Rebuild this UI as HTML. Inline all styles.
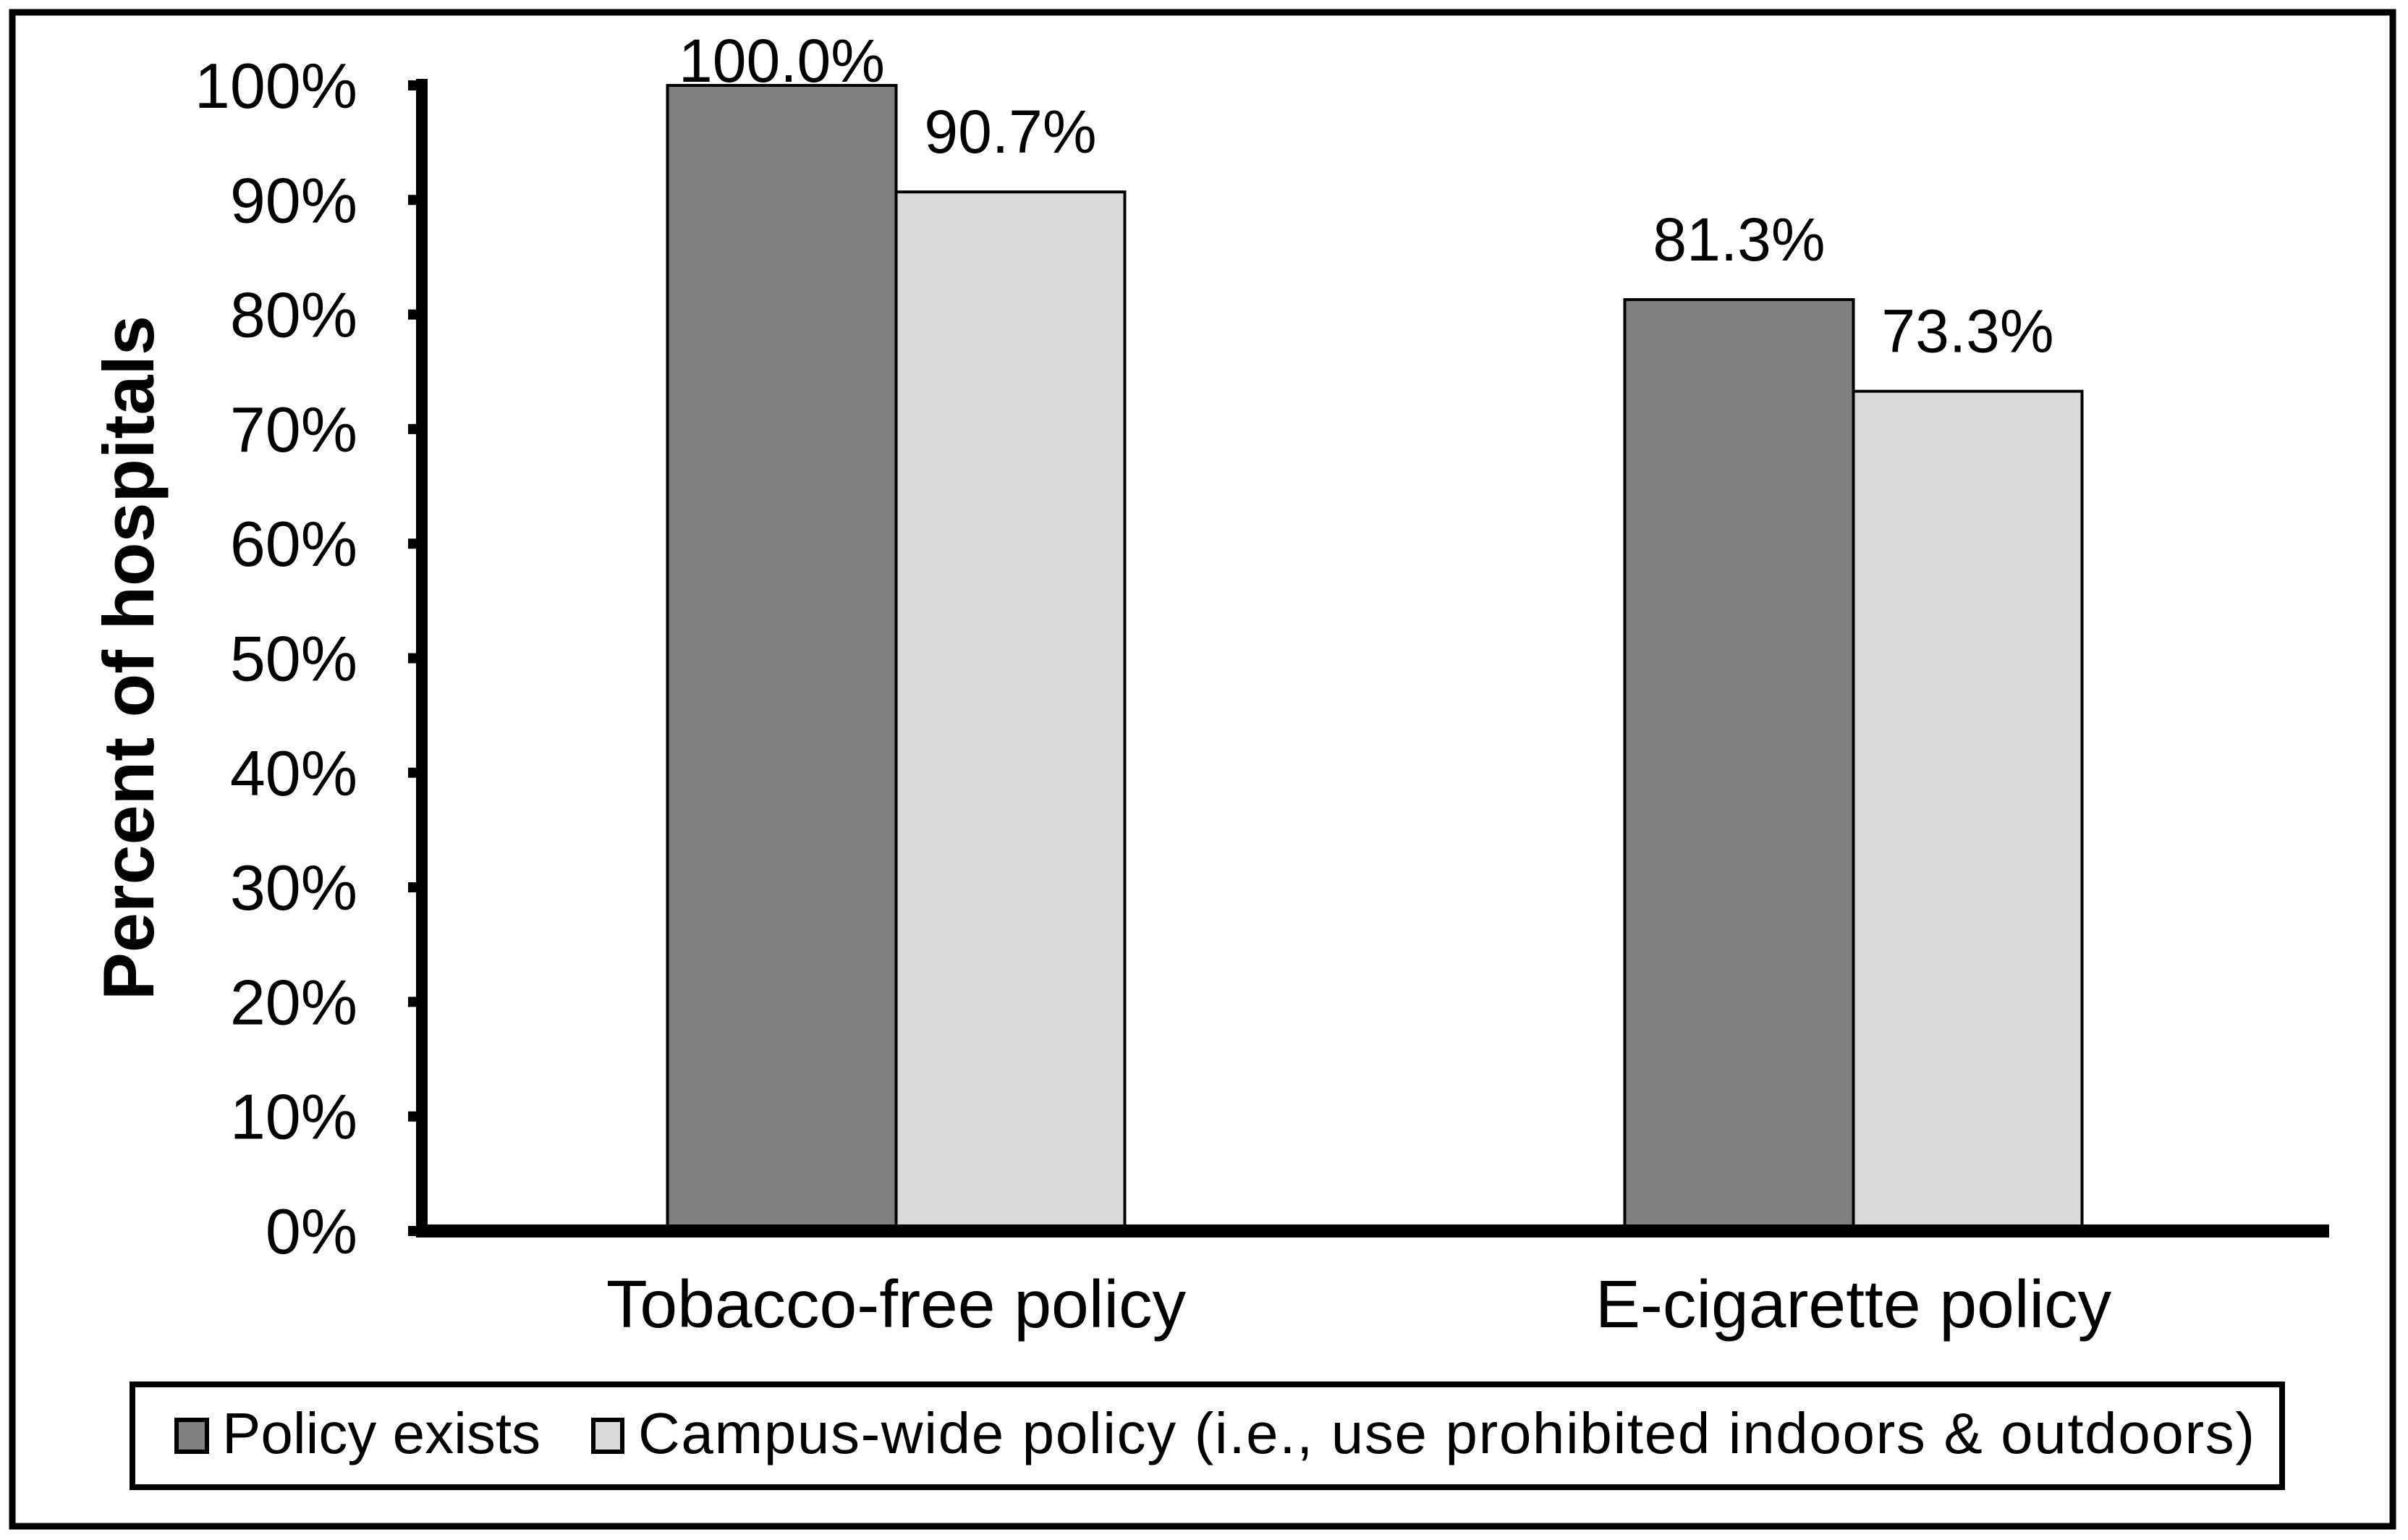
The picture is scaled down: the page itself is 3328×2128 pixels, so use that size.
<!DOCTYPE html>
<html><head><meta charset="utf-8">
<style>html,body{margin:0;padding:0;background:#fff}svg{display:block}text{font-family:"Liberation Sans",Arial,sans-serif}</style>
</head><body>
<svg width="3328" height="2128" viewBox="0 0 3328 2128" xmlns="http://www.w3.org/2000/svg">
<rect x="17" y="17" width="3290" height="2092" fill="#fff" stroke="#000" stroke-width="9"/>
<g id="yticks"></g>
<g id="bars"></g>
<g id="labels"></g>
<line x1="583" y1="109" x2="583" y2="1710" stroke="#000" stroke-width="16"/>
<line x1="575" y1="1701" x2="3219" y2="1701" stroke="#000" stroke-width="18"/>
<text x="0" y="0" transform="translate(212,909) rotate(-90)" text-anchor="middle" font-size="99" font-weight="bold">Percent of hospitals</text>
<g id="cats"></g>
<g>
<rect x="183" y="1913" width="2971" height="142" fill="#fff" stroke="#000" stroke-width="8"/>
<rect x="244" y="1962" width="42" height="44" fill="#808080" stroke="#000" stroke-width="6"/>
<text x="307" y="2008" font-size="80">Policy exists</text>
<rect x="820" y="1962" width="40" height="44" fill="#d9d9d9" stroke="#000" stroke-width="6"/>
<text x="882" y="2008" font-size="80" textLength="2234">Campus-wide policy (i.e., use prohibited indoors &amp; outdoors)</text>
</g>
</svg>
<script>
const categories = ["Tobacco-free policy", "E-cigarette policy"];
const policyExists = [100.0, 81.3];
const campusWide = [90.7, 73.3];
const tickValues = [0, 10, 20, 30, 40, 50, 60, 70, 80, 90, 100];

const NS = "http://www.w3.org/2000/svg";
const x0 = 577, x1 = 3223, yBase = 1701, yTop = 118;
function yScale(v){ return yBase - (yBase - yTop) * v / 100; }
function xCenter(i){ return x0 + (x1 - x0) * (i + 0.5) / categories.length; }
const barW = 316;
function mk(tag, attrs, parent){ const e = document.createElementNS(NS, tag); for (const k in attrs) e.setAttribute(k, attrs[k]); parent.appendChild(e); return e; }

const yt = document.getElementById('yticks');
tickValues.forEach(v => {
  const y = yScale(v);
  const l = mk('line', {x1: 564, x2: 590, y1: y, y2: y, stroke: '#000', 'stroke-width': 14}, yt);
  
  
  const t = mk('text', {x: 494, y: y + 31, 'text-anchor': 'end', 'font-size': 88}, yt);
  t.textContent = v + '%';
  
  
});

const bg = document.getElementById('bars'), lg = document.getElementById('labels'), cg = document.getElementById('cats');
const series = [{vals: policyExists, fill: '#808080', key: 'policy-exists'}, {vals: campusWide, fill: '#d9d9d9', key: 'campus-wide'}];
categories.forEach((c, i) => {
  const cx = xCenter(i);
  series.forEach((s, j) => {
    const bx = cx - barW + j * barW;
    const top = yScale(s.vals[i]);
    const r = mk('rect', {x: bx, y: top, width: barW, height: yBase - top, fill: s.fill, stroke: '#000', 'stroke-width': 4}, bg);
    
    
    const t = mk('text', {x: bx + barW / 2, y: Math.max(top - 54, 113), 'text-anchor': 'middle', 'font-size': 84}, lg);
    t.textContent = s.vals[i].toFixed(1) + '%';
    
    
  });
  const ct = mk('text', {x: cx, y: 1834, 'text-anchor': 'middle', 'font-size': 93}, cg);
  ct.textContent = c;
  
  
});
</script>
</body></html>
